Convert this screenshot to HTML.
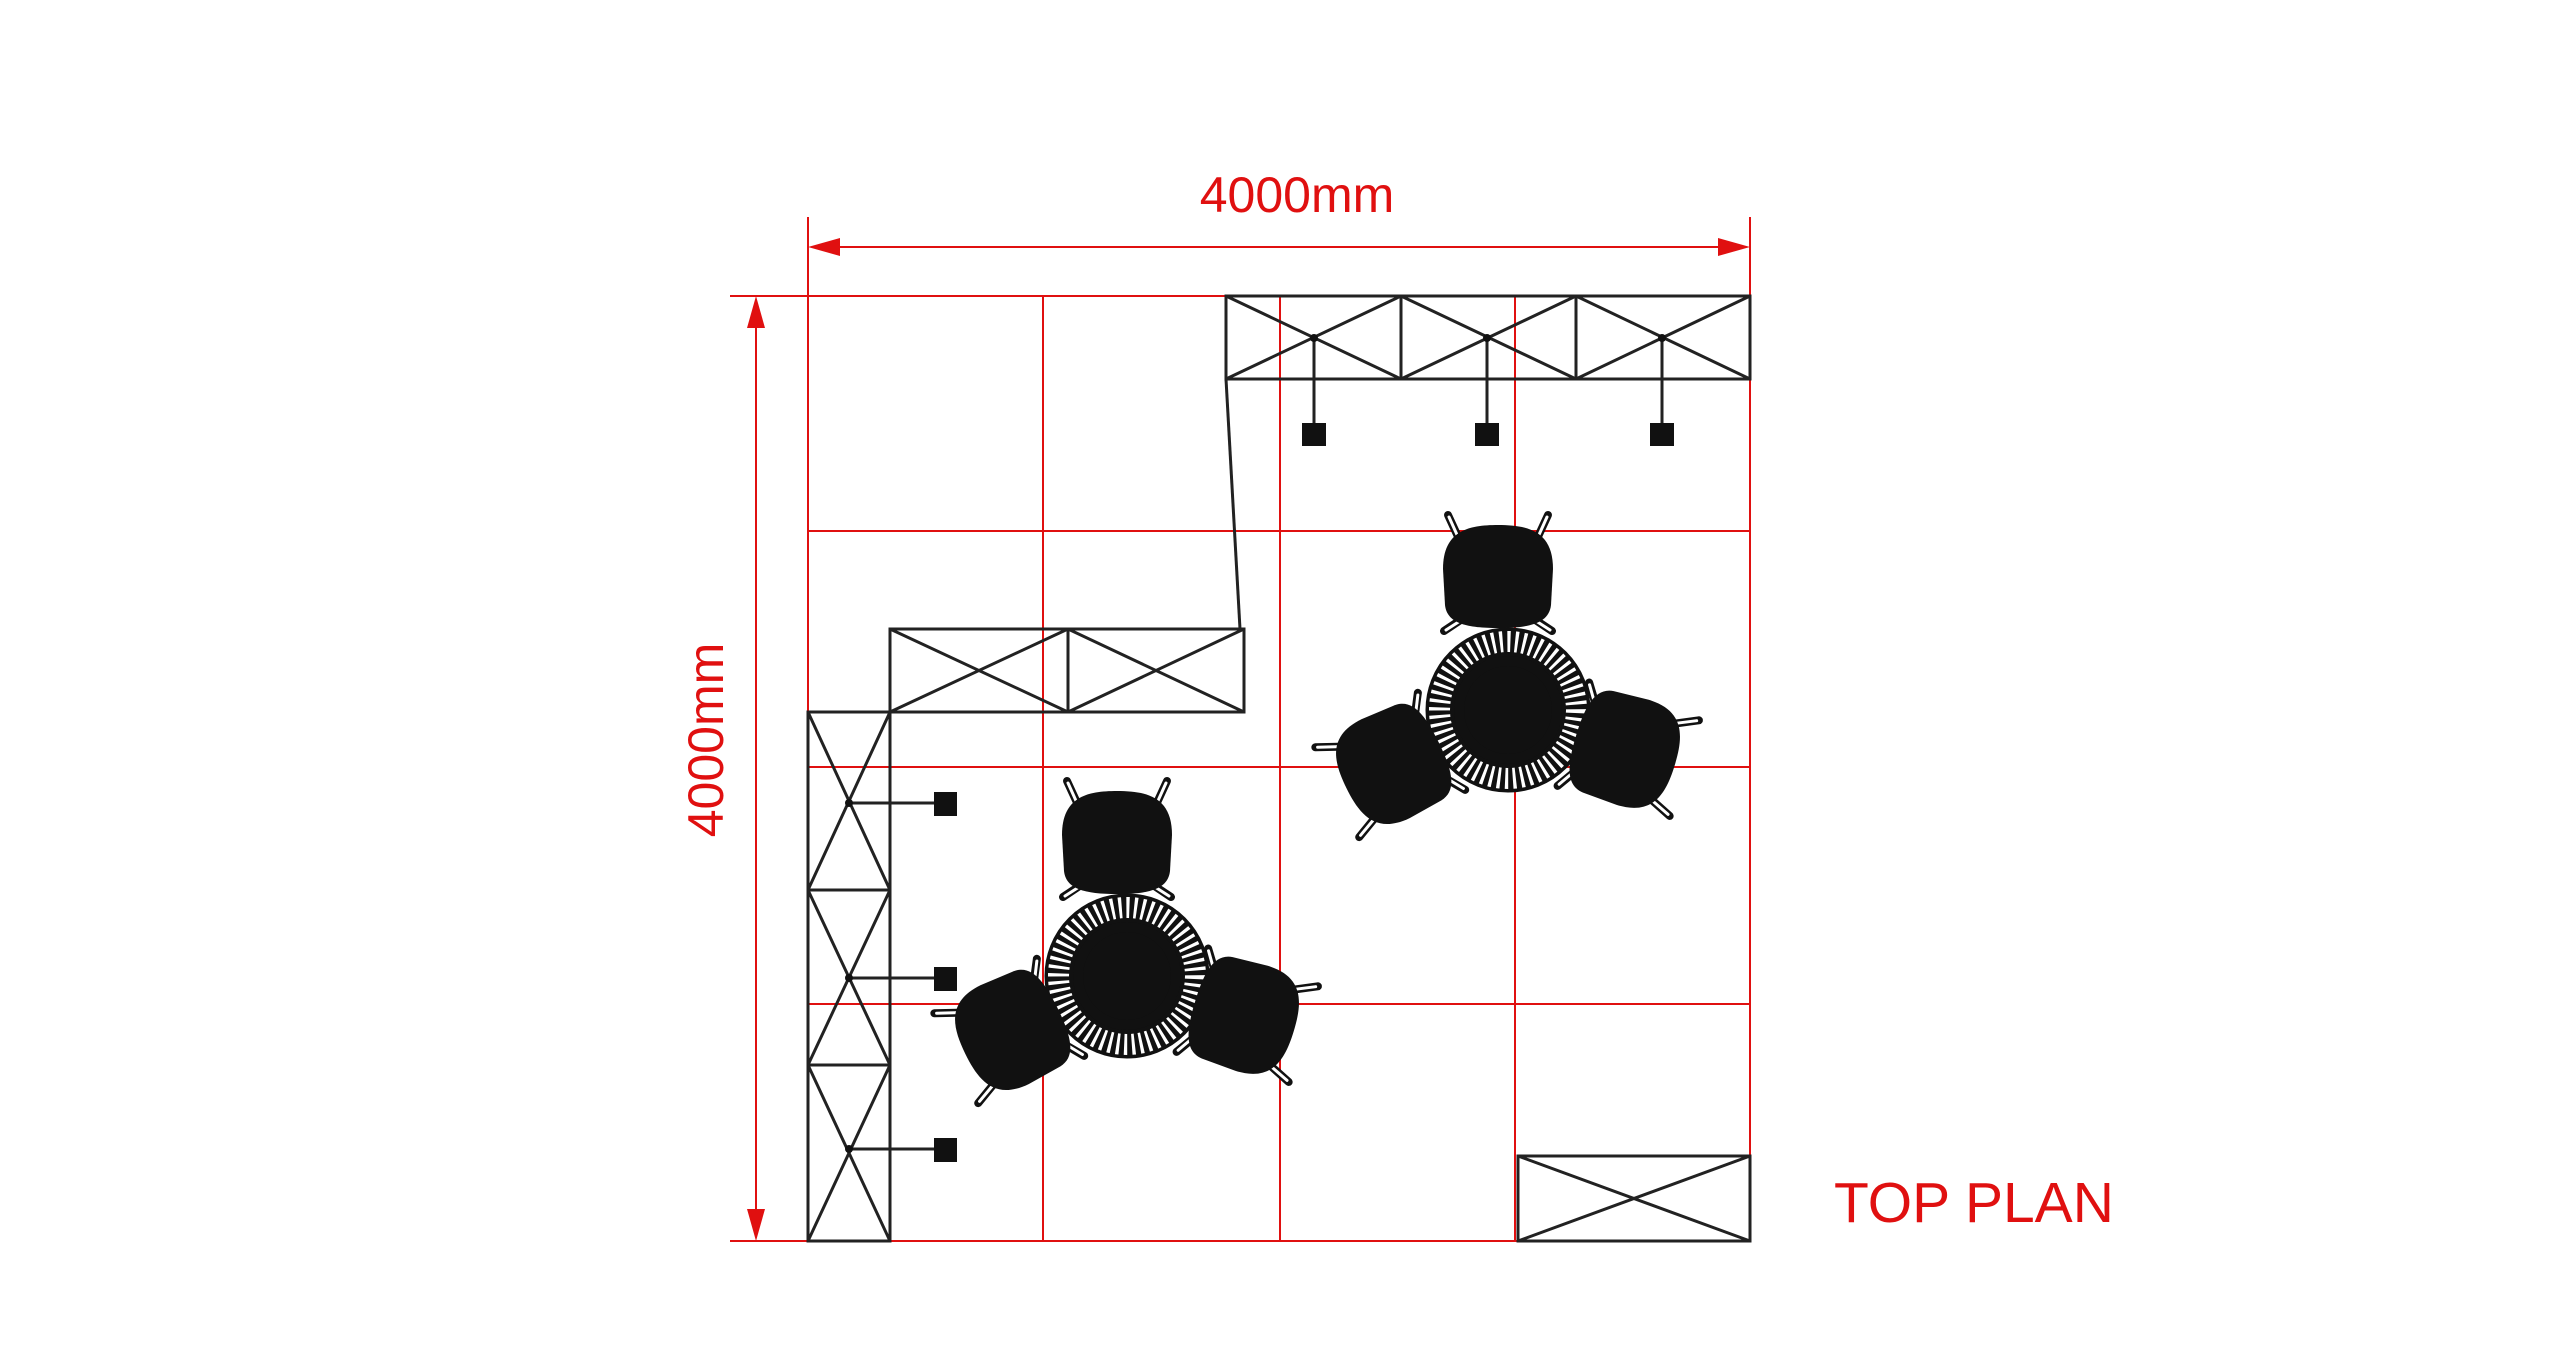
<!DOCTYPE html>
<html><head><meta charset="utf-8"><style>html,body{margin:0;padding:0;background:#fff}svg{display:block}</style></head>
<body>
<svg width="2560" height="1350" viewBox="0 0 2560 1350" xmlns="http://www.w3.org/2000/svg">
<defs>
<g id="chair">
  <g stroke="#111" stroke-width="8" stroke-linecap="round">
    <line x1="-38" y1="-36" x2="-50" y2="-62"/><line x1="38" y1="-36" x2="50" y2="-62"/>
    <line x1="-36" y1="42" x2="-54" y2="54"/><line x1="36" y1="42" x2="54" y2="54"/>
  </g>
  <g stroke="#fff" stroke-width="3" stroke-linecap="round">
    <line x1="-40" y1="-40" x2="-49" y2="-60"/><line x1="40" y1="-40" x2="49" y2="-60"/>
    <line x1="-38" y1="44" x2="-52" y2="53"/><line x1="38" y1="44" x2="52" y2="53"/>
  </g>
  <path d="M-55,-8 C-55,-46 -30,-52 0,-52 C30,-52 55,-46 55,-8 L53,28 C51,47 30,51 0,51 C-30,51 -51,47 -53,28 Z" fill="#111"/>
</g>
<g id="table">
  <circle r="82" fill="#111"/>
  <circle r="67" fill="none" stroke="#fff" stroke-width="24" stroke-dasharray="3 4.5"/>
  <circle r="56" fill="none" stroke="#111" stroke-width="4"/>
  <circle r="44" fill="#111"/>
  <circle r="81" fill="none" stroke="#111" stroke-width="3"/>
</g>
<g id="grp">
  <use href="#table"/>
  <use href="#chair" transform="translate(-10,-133)"/>
  <use href="#chair" transform="translate(-115,55) rotate(-116)"/>
  <use href="#chair" transform="translate(117,40) rotate(107)"/>
</g>
</defs>
<!-- grid -->
<g stroke="#e01010" stroke-width="2" fill="none">
  <line x1="808" y1="217" x2="808" y2="1241"/>
  <line x1="1043" y1="296" x2="1043" y2="1241"/>
  <line x1="1280" y1="296" x2="1280" y2="1241"/>
  <line x1="1515" y1="296" x2="1515" y2="1241"/>
  <line x1="1750" y1="217" x2="1750" y2="1241"/>
  <line x1="730" y1="296" x2="1750" y2="296"/>
  <line x1="808" y1="531" x2="1750" y2="531"/>
  <line x1="808" y1="767" x2="1750" y2="767"/>
  <line x1="808" y1="1004" x2="1750" y2="1004"/>
  <line x1="730" y1="1241" x2="1750" y2="1241"/>
  <line x1="830" y1="247" x2="1728" y2="247"/>
  <line x1="756" y1="318" x2="756" y2="1219"/>
</g>
<g fill="#e01010">
  <polygon points="808,247 840,238 840,256"/>
  <polygon points="1750,247 1718,238 1718,256"/>
  <polygon points="756,296 747,328 765,328"/>
  <polygon points="756,1241 747,1209 765,1209"/>
</g>
<g font-family="Liberation Sans, sans-serif" fill="#e01010">
  <text x="1297" y="212" font-size="50" text-anchor="middle">4000mm</text>
  <text transform="translate(723,740) rotate(-90)" font-size="50" text-anchor="middle">4000mm</text>
  <text x="1834" y="1222" font-size="57">TOP PLAN</text>
</g>
<!-- trusses -->
<g stroke="#222" stroke-width="3" fill="none">
  <rect x="1226" y="296" width="524" height="83"/>
  <line x1="1401" y1="296" x2="1401" y2="379"/><line x1="1576" y1="296" x2="1576" y2="379"/>
  <path d="M1226,296 L1401,379 M1226,379 L1401,296 M1401,296 L1576,379 M1401,379 L1576,296 M1576,296 L1750,379 M1576,379 L1750,296"/>
  <line x1="1314" y1="338" x2="1314" y2="430"/><line x1="1487" y1="338" x2="1487" y2="430"/><line x1="1662" y1="338" x2="1662" y2="430"/>
  <line x1="1226" y1="379" x2="1240" y2="629"/>
  <rect x="890" y="629" width="354" height="83"/>
  <line x1="1068" y1="629" x2="1068" y2="712"/>
  <path d="M890,629 L1068,712 M890,712 L1068,629 M1068,629 L1244,712 M1068,712 L1244,629"/>
  <rect x="808" y="712" width="82" height="529"/>
  <line x1="808" y1="890" x2="890" y2="890"/><line x1="808" y1="1065" x2="890" y2="1065"/>
  <path d="M808,712 L890,890 M890,712 L808,890 M808,890 L890,1065 M890,890 L808,1065 M808,1065 L890,1241 M890,1065 L808,1241"/>
  <line x1="849" y1="803" x2="940" y2="803"/><line x1="849" y1="978" x2="940" y2="978"/><line x1="849" y1="1149" x2="940" y2="1149"/>
  <rect x="1518" y="1156" width="232" height="85"/>
  <path d="M1518,1156 L1750,1241 M1518,1241 L1750,1156"/>
</g>
<g fill="#111">
  <rect x="1302" y="423" width="24" height="23"/><rect x="1475" y="423" width="24" height="23"/><rect x="1650" y="423" width="24" height="23"/>
  <rect x="934" y="792" width="23" height="24"/><rect x="934" y="967" width="23" height="24"/><rect x="934" y="1138" width="23" height="24"/>
  <circle cx="1314" cy="338" r="4"/><circle cx="1487" cy="338" r="4"/><circle cx="1662" cy="338" r="4"/>
  <circle cx="849" cy="803" r="4"/><circle cx="849" cy="978" r="4"/><circle cx="849" cy="1149" r="4"/>
</g>
<use href="#grp" transform="translate(1508,710)"/>
<use href="#grp" transform="translate(1127,976)"/>
</svg>
</body></html>
